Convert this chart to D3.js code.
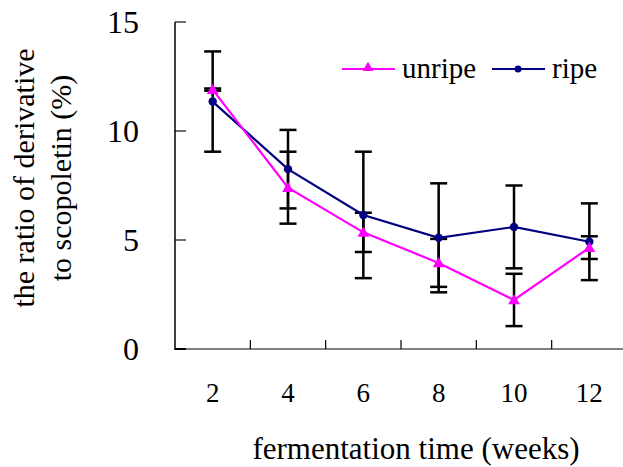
<!DOCTYPE html>
<html>
<head>
<meta charset="utf-8">
<script src="https://cdn.jsdelivr.net/npm/d3@7"></script>
<style>
  body { margin: 0; background: #fff; }
  svg text { font-family: 'Liberation Serif', 'Times New Roman', Times, 'DejaVu Serif', serif; fill: #000; }
</style>
</head>
<body>
<svg id="chart"></svg>
<script>
// data
const weeks = [2, 4, 6, 8, 10, 12];
const unripe = [11.9, 7.4, 5.35, 3.95, 2.25, 4.65];
const unripeErr = [0.05, 1.65, 0.9, 1.1, 1.2, 0.52];
const ripe = [11.35, 8.25, 6.15, 5.1, 5.6, 4.92];
const ripeErr = [2.3, 1.8, 2.9, 2.5, 1.9, 1.76];
const yTicks = [0, 5, 10, 15];

const width = 623, height = 467;
const plot = {left: 175, right: 627, top: 22, bottom: 349};
const serif = "'Liberation Serif', 'Times New Roman', Times, serif";

const svg = d3.select('#chart')
    .attr('width', width)
    .attr('height', height)
    .attr('font-family', serif);

const x = d3.scaleBand()
    .domain(weeks)
    .range([plot.left, plot.right]);

const y = d3.scaleLinear()
    .domain([0, 15])
    .range([plot.bottom, plot.top]);

const cx = d => x(d) + x.bandwidth() / 2;

// x axis line (grey) + ticks pointing up
svg.append('line')
    .attr('x1', plot.left).attr('x2', plot.right)
    .attr('y1', y(0)).attr('y2', y(0))
    .attr('stroke', '#808080').attr('stroke-width', 2);

svg.selectAll('.x-tick')
    .data(weeks.slice(1))
    .join('line')
    .attr('class', 'x-tick')
    .attr('x1', d => x(d)).attr('x2', d => x(d))
    .attr('y1', y(0)).attr('y2', y(0) - 9)
    .attr('stroke', '#000').attr('stroke-width', 1.2);

// y axis
svg.selectAll('.y-tick')
    .data(yTicks)
    .join('line')
    .attr('class', 'y-tick')
    .attr('x1', plot.left).attr('x2', plot.left + 11)
    .attr('y1', d => y(d)).attr('y2', d => y(d))
    .attr('stroke', d => d === 0 ? '#000' : '#707070').attr('stroke-width', 2);

svg.append('line')
    .attr('x1', plot.left).attr('x2', plot.left)
    .attr('y1', y(15)).attr('y2', y(0) + 1)
    .attr('stroke', '#000').attr('stroke-width', 1.5);

svg.selectAll('.y-label')
    .data(yTicks)
    .join('text')
    .attr('class', 'y-label')
    .attr('x', 139)
    .attr('y', d => y(d))
    .attr('dy', '0.35em')
    .attr('text-anchor', 'end')
    .attr('font-family', serif)
    .style('font-size', '32px')
    .text(d => d);

svg.selectAll('.x-label')
    .data(weeks)
    .join('text')
    .attr('class', 'x-label')
    .attr('x', d => cx(d))
    .attr('y', 402)
    .attr('text-anchor', 'middle')
    .attr('font-family', serif)
    .style('font-size', '27px')
    .text(d => d);

// axis titles
svg.append('text')
    .attr('x', 416)
    .attr('y', 459)
    .attr('text-anchor', 'middle')
    .attr('font-family', serif)
    .style('font-size', '31px')
    .text('fermentation time (weeks)');

const yTitle = svg.append('text')
    .attr('transform', 'translate(0,178) rotate(-90)')
    .attr('text-anchor', 'middle')
    .attr('font-family', serif)
    .style('font-size', '30px');
yTitle.append('tspan').attr('x', 0).attr('y', 34).text('the ratio of derivative');
yTitle.append('tspan').attr('x', 0).attr('y', 71).text('to scopoletin (%)');

// error bars
const capW = 8.5;
function errorBars(vals, errs, cls) {
    const g = svg.append('g').attr('class', cls)
        .attr('stroke', '#000').attr('stroke-width', 2.5);
    weeks.forEach((w, i) => {
        const hi = y(vals[i] + errs[i]), lo = y(vals[i] - errs[i]);
        g.append('line').attr('x1', cx(w)).attr('x2', cx(w)).attr('y1', hi).attr('y2', lo);
        g.append('line').attr('x1', cx(w) - capW).attr('x2', cx(w) + capW).attr('y1', hi).attr('y2', hi);
        g.append('line').attr('x1', cx(w) - capW).attr('x2', cx(w) + capW).attr('y1', lo).attr('y2', lo);
    });
}
errorBars(ripe, ripeErr, 'err-ripe');
errorBars(unripe, unripeErr, 'err-unripe');

const line = d3.line()
    .x((d, i) => cx(weeks[i]))
    .y(d => y(d));

const tri = d3.symbol().type(d3.symbolTriangle).size(60);

// ripe series
svg.append('path')
    .datum(ripe)
    .attr('d', line)
    .attr('fill', 'none')
    .attr('stroke', '#000080')
    .attr('stroke-width', 2.2);
svg.selectAll('.ripe-dot')
    .data(ripe)
    .join('circle')
    .attr('class', 'ripe-dot')
    .attr('cx', (d, i) => cx(weeks[i]))
    .attr('cy', d => y(d))
    .attr('r', 4.2)
    .attr('fill', '#000080');

// unripe series
svg.append('path')
    .datum(unripe)
    .attr('d', line)
    .attr('fill', 'none')
    .attr('stroke', '#ff00ff')
    .attr('stroke-width', 2.2);
svg.selectAll('.unripe-tri')
    .data(unripe)
    .join('path')
    .attr('class', 'unripe-tri')
    .attr('d', tri)
    .attr('transform', (d, i) => `translate(${cx(weeks[i])},${y(d) + 1})`)
    .attr('fill', '#ff00ff');

// legend
const legend = svg.append('g');
legend.append('line')
    .attr('x1', 342).attr('x2', 395).attr('y1', 69).attr('y2', 69)
    .attr('stroke', '#ff00ff').attr('stroke-width', 2.2);
legend.append('path')
    .attr('d', d3.symbol().type(d3.symbolTriangle).size(50))
    .attr('transform', 'translate(368,68)')
    .attr('fill', '#ff00ff');
legend.append('text')
    .attr('x', 402).attr('y', 69).attr('dy', '0.32em')
    .attr('font-family', serif)
    .style('font-size', '29px')
    .text('unripe');
legend.append('line')
    .attr('x1', 492).attr('x2', 545).attr('y1', 69).attr('y2', 69)
    .attr('stroke', '#000080').attr('stroke-width', 2.2);
legend.append('circle')
    .attr('cx', 518).attr('cy', 69).attr('r', 3.5)
    .attr('fill', '#000080');
legend.append('text')
    .attr('x', 552).attr('y', 69).attr('dy', '0.32em')
    .attr('font-family', serif)
    .style('font-size', '29px')
    .text('ripe');
</script>
</body>
</html>
